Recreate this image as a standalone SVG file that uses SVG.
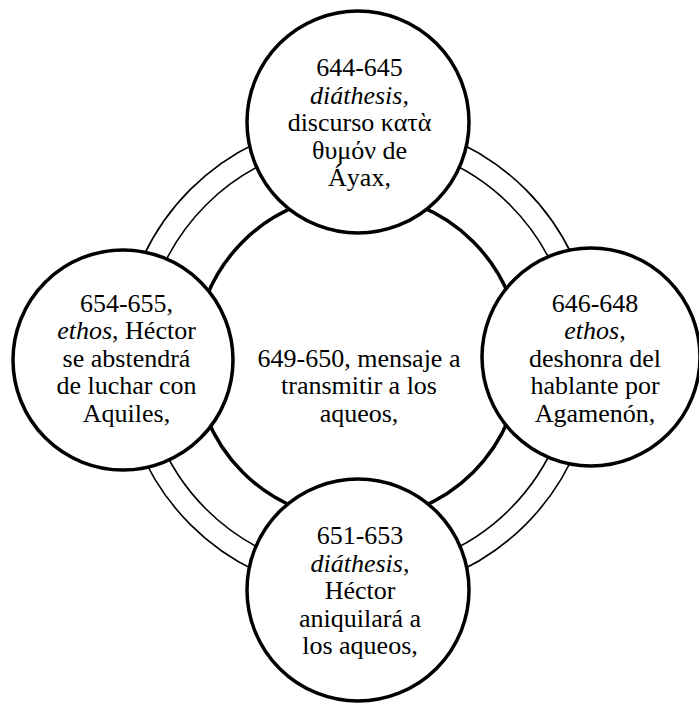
<svg xmlns="http://www.w3.org/2000/svg" width="699" height="704" viewBox="0 0 699 704">
  <rect width="699" height="704" fill="#ffffff"/>

  <!-- double ring linking the outer nodes -->
  <g id="connectors" fill="none" stroke="#000000" stroke-width="1.6">
    <circle cx="358" cy="357" r="215"/>
    <circle cx="358" cy="357" r="237"/>
  </g>

  <g id="center">
    <circle cx="358" cy="357" r="163" fill="#ffffff" stroke="#000000" stroke-width="3.5"/>
    <text font-family="Liberation Serif, Times New Roman, serif" font-size="26" text-anchor="middle" x="359" y="366.5">649-650, mensaje a</text>
    <text font-family="Liberation Serif, Times New Roman, serif" font-size="26" text-anchor="middle" x="359" y="394">transmitir a los</text>
    <text font-family="Liberation Serif, Times New Roman, serif" font-size="26" text-anchor="middle" x="359" y="421.5">aqueos,</text>
  </g>

  <g id="top">
    <circle cx="358" cy="122" r="111" fill="#ffffff" stroke="#000000" stroke-width="3.5"/>
    <text font-family="Liberation Serif, Times New Roman, serif" font-size="26" text-anchor="middle" x="359.5" y="76">644-645</text>
    <text font-family="Liberation Serif, Times New Roman, serif" font-size="26" text-anchor="middle" x="359.5" y="103.5"><tspan font-style="italic">diáthesis</tspan>,</text>
    <text font-family="Liberation Serif, Times New Roman, serif" font-size="26" text-anchor="middle" x="359.5" y="131">discurso κατὰ</text>
    <text font-family="Liberation Serif, Times New Roman, serif" font-size="26" text-anchor="middle" x="359.5" y="158.5">θυμόν de</text>
    <text font-family="Liberation Serif, Times New Roman, serif" font-size="26" text-anchor="middle" x="359.5" y="186">Áyax,</text>
  </g>

  <g id="right">
    <circle cx="591" cy="357" r="109" fill="#ffffff" stroke="#000000" stroke-width="3.5"/>
    <text font-family="Liberation Serif, Times New Roman, serif" font-size="26" text-anchor="middle" x="595" y="311.5">646-648</text>
    <text font-family="Liberation Serif, Times New Roman, serif" font-size="26" text-anchor="middle" x="595" y="339"><tspan font-style="italic">ethos</tspan>,</text>
    <text font-family="Liberation Serif, Times New Roman, serif" font-size="26" text-anchor="middle" x="595" y="366.5">deshonra del</text>
    <text font-family="Liberation Serif, Times New Roman, serif" font-size="26" text-anchor="middle" x="595" y="394">hablante por</text>
    <text font-family="Liberation Serif, Times New Roman, serif" font-size="26" text-anchor="middle" x="595" y="421.5">Agamenón,</text>
  </g>

  <g id="bottom">
    <circle cx="358" cy="590" r="111" fill="#ffffff" stroke="#000000" stroke-width="3.5"/>
    <text font-family="Liberation Serif, Times New Roman, serif" font-size="26" text-anchor="middle" x="360" y="544">651-653</text>
    <text font-family="Liberation Serif, Times New Roman, serif" font-size="26" text-anchor="middle" x="360" y="571.5"><tspan font-style="italic">diáthesis</tspan>,</text>
    <text font-family="Liberation Serif, Times New Roman, serif" font-size="26" text-anchor="middle" x="360" y="599">Héctor</text>
    <text font-family="Liberation Serif, Times New Roman, serif" font-size="26" text-anchor="middle" x="360" y="626.5">aniquilará a</text>
    <text font-family="Liberation Serif, Times New Roman, serif" font-size="26" text-anchor="middle" x="360" y="654">los aqueos,</text>
  </g>

  <g id="left">
    <circle cx="123" cy="360" r="110" fill="#ffffff" stroke="#000000" stroke-width="3.5"/>
    <text font-family="Liberation Serif, Times New Roman, serif" font-size="26" text-anchor="middle" x="126.5" y="311.5">654-655,</text>
    <text font-family="Liberation Serif, Times New Roman, serif" font-size="26" text-anchor="middle" x="126.5" y="339"><tspan font-style="italic">ethos</tspan>, Héctor</text>
    <text font-family="Liberation Serif, Times New Roman, serif" font-size="26" text-anchor="middle" x="126.5" y="366.5">se abstendrá</text>
    <text font-family="Liberation Serif, Times New Roman, serif" font-size="26" text-anchor="middle" x="126.5" y="394">de luchar con</text>
    <text font-family="Liberation Serif, Times New Roman, serif" font-size="26" text-anchor="middle" x="126.5" y="421.5">Aquiles,</text>
  </g>
</svg>
